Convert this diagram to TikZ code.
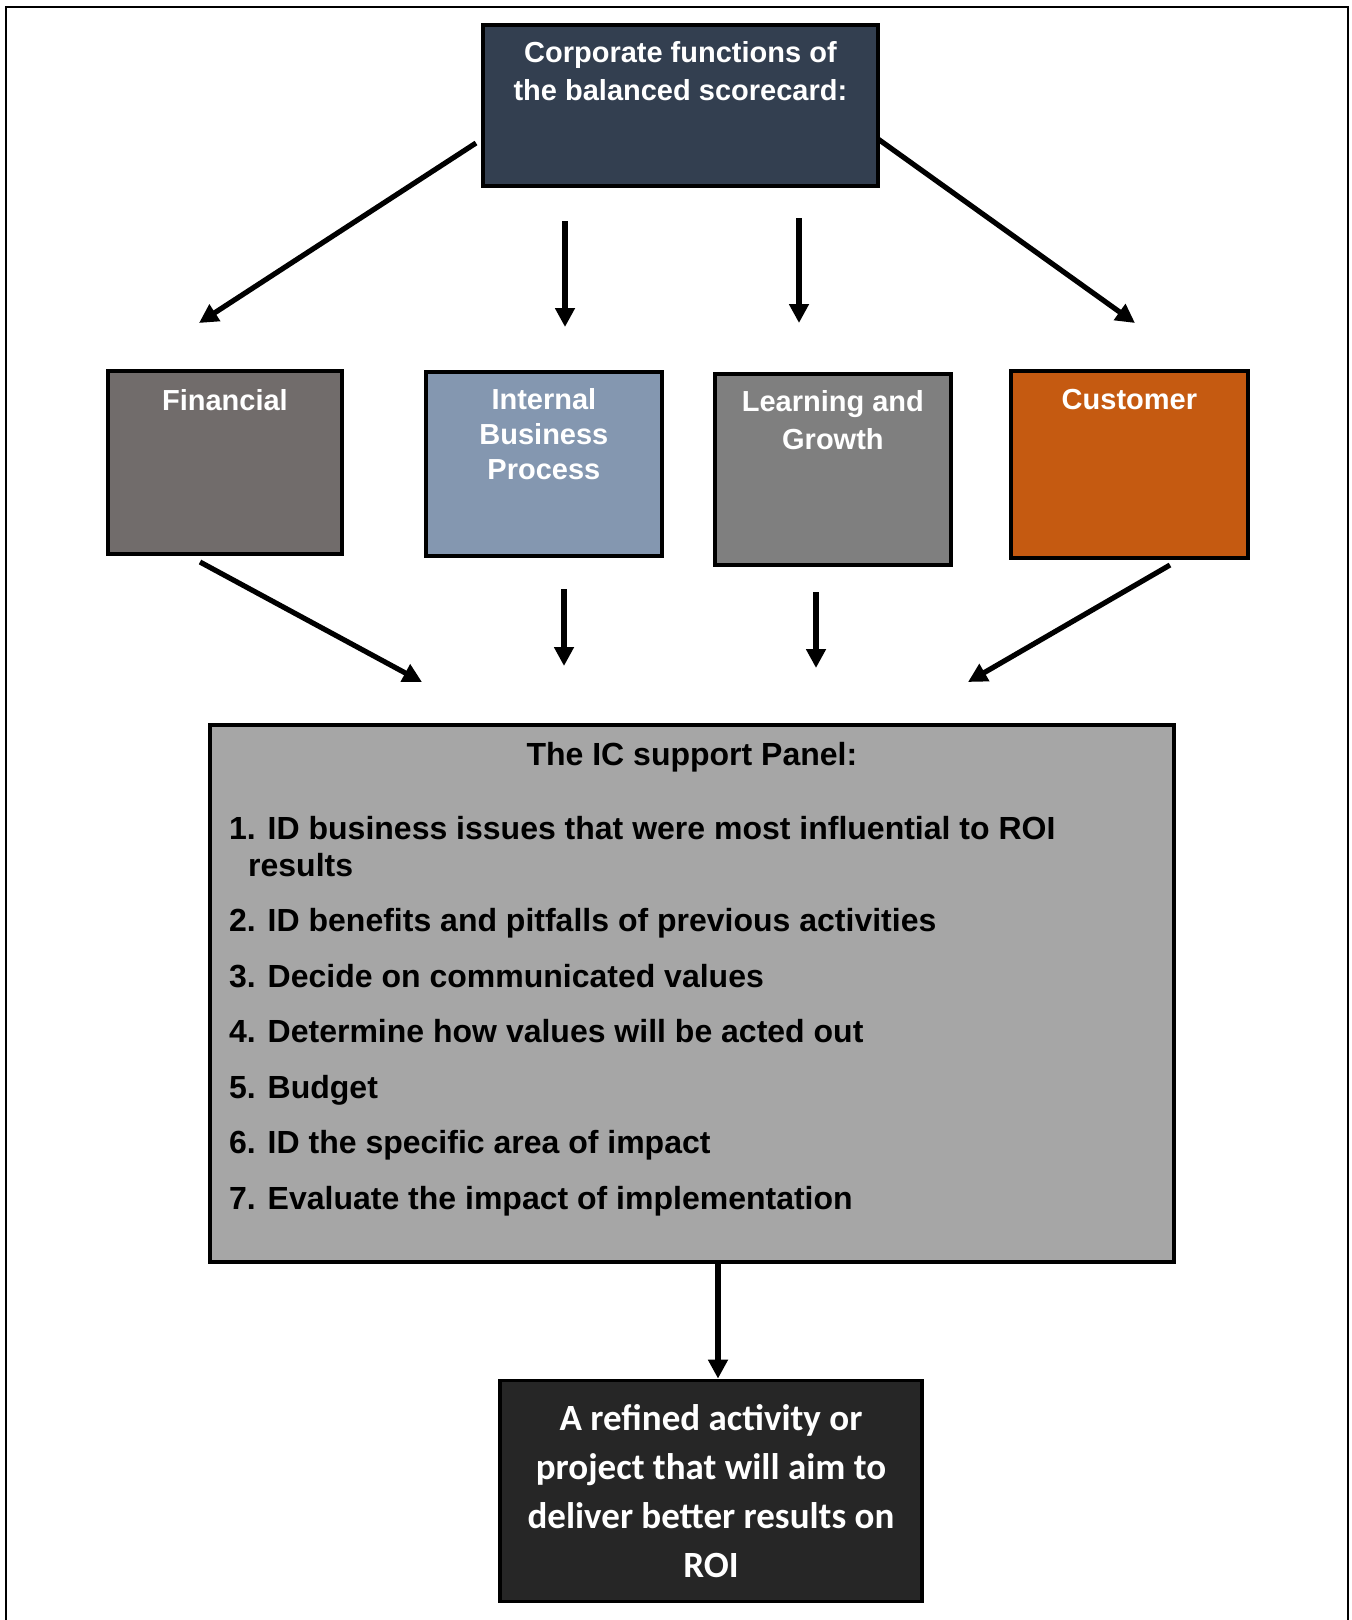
\documentclass[tikz,border=0pt]{standalone}
\usepackage{fontspec}
\setmainfont{Liberation Sans}
\newfontfamily\carlito{Carlito}
\usetikzlibrary{arrows.meta}

\begin{document}
\begin{tikzpicture}[
  x=1pt, y=-1pt,
  box/.style={draw=black, line width=3.8pt, anchor=north west, inner sep=0pt},
  boxtext/.style={font=\fontsize{29}{35}\selectfont\bfseries, text=white, align=center, inner sep=0pt, anchor=north, yshift=-18pt},
  flow/.style={line width=5.2pt, -{Triangle[length=19pt, width=19pt]}}
]
  \useasboundingbox (0,0) rectangle (1352,1620);

  % open frame: left, top and right sides only
  \draw[line width=2.5pt] (6,1620) -- (6,7) -- (1348,7) -- (1348,1620);

  % Scorecard on top
  \node[box, fill={rgb,255:red,51;green,63;blue,80}, minimum width=395, minimum height=161,
    label={[boxtext, font=\fontsize{29}{38}\selectfont\bfseries]north:{Corporate functions of\\the balanced scorecard:}}]
    (card) at (481,23) {};

  % The four perspectives
  \node[box, fill={rgb,255:red,113;green,108;blue,107}, minimum width=234, minimum height=183,
    label={[boxtext, yshift=-2pt]north:Financial}] (fin) at (106,369) {};
  \node[box, fill={rgb,255:red,132;green,151;blue,176}, minimum width=236, minimum height=184,
    label={[boxtext]north:{Internal\\Business\\Process}}] (ibp) at (424,370) {};
  \node[box, fill={rgb,255:red,127;green,127;blue,127}, minimum width=236, minimum height=191,
    label={[boxtext, font=\fontsize{29}{38}\selectfont\bfseries]north:{Learning and\\Growth}}] (lag) at (713,372) {};
  \node[box, fill={rgb,255:red,197;green,90;blue,17}, minimum width=237, minimum height=187,
    label={[boxtext, yshift=-2pt]north:Customer}] (cus) at (1009,369) {};

  % IC support panel
  \node[box, fill={rgb,255:red,166;green,166;blue,166}, minimum width=964, minimum height=537,
    label={[boxtext, text=black, font=\fontsize{32}{37}\selectfont\bfseries, yshift=-1pt]north:The IC support Panel:}]
    (panel) at (208,723) {};
  \node[anchor=north west, inner sep=0pt, align=left, font=\fontsize{32}{37}\selectfont\bfseries] (steps) at (229,816)
    {1. ID business issues that were most influential to ROI\\
     \hspace*{19pt}results\\[18.5pt]
     2. ID benefits and pitfalls of previous activities\\[18.5pt]
     3. Decide on communicated values\\[18.5pt]
     4. Determine how values will be acted out\\[18.5pt]
     5. Budget\\[18.5pt]
     6. ID the specific area of impact\\[18.5pt]
     7. Evaluate the impact of implementation};

  % Outcome
  \node[box, fill={rgb,255:red,38;green,38;blue,38}, minimum width=422, minimum height=221, text=white,
    align=center, font=\carlito\fontsize{37}{49}\selectfont\bfseries, anchor=center]
    (res) at (711,1491) {A refined activity or\\project that will aim to\\deliver better results on\\ROI};

  % arrow ends
  \coordinate (a1) at (476,143);  \coordinate (b1) at (199,323);
  \coordinate (a2) at (565,221);  \coordinate (b2) at (565,327);
  \coordinate (a3) at (799,218);  \coordinate (b3) at (799,323);
  \coordinate (a4) at (878,139);  \coordinate (b4) at (1135,323);
  \coordinate (c1) at (200,562);  \coordinate (d1) at (422,682);
  \coordinate (c2) at (564,589);  \coordinate (d2) at (564,666);
  \coordinate (c3) at (816,592);  \coordinate (d3) at (816,668);
  \coordinate (c4) at (1170,565); \coordinate (d4) at (968,682);
  \coordinate (e1) at (718,1264);

  \draw[flow] (a1) -- (b1);
  \draw[flow] (a2) -- (b2);
  \draw[flow] (a3) -- (b3);
  \draw[flow] (a4) -- (b4);
  \draw[flow] (c1) -- (d1);
  \draw[flow] (c2) -- (d2);
  \draw[flow] (c3) -- (d3);
  \draw[flow] (c4) -- (d4);
  \draw[flow] (e1) -- (e1 |- res.north);

\end{tikzpicture}
\end{document}
